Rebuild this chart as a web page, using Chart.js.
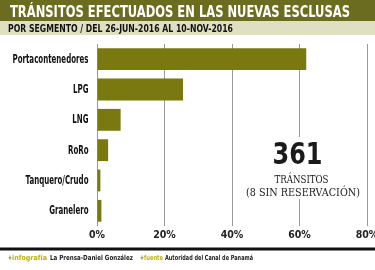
<!DOCTYPE html>
<html><head><meta charset="utf-8">
<script src="https://cdn.jsdelivr.net/npm/chart.js@4/dist/chart.umd.min.js"></script>
<style>html,body{margin:0;padding:0;background:#fff}#wrap{width:375px;height:270px;position:relative}</style>
</head><body><div id="wrap"><canvas id="c" width="375" height="270"></canvas></div>
<script>
const categories = ['Portacontenedores','LPG','LNG','RoRo','Tanquero/Crudo','Granelero'];
const shares = [62, 25.5, 7, 3.3, 1, 1.3];
const xTicks = [0, 20, 40, 60, 80];
const titleText = 'TRÁNSITOS EFECTUADOS EN LAS NUEVAS ESCLUSAS';
const subtitleText = 'POR SEGMENTO / DEL 26-JUN-2016 AL 10-NOV-2016';
const bigNumber = '361';
const bigLabel1 = 'TRÁNSITOS';
const bigLabel2 = '(8 SIN RESERVACIÓN)';

const COND = "'DejaVu Sans Condensed',sans-serif";

function fitText(ctx, txt, x, y, w, font, color, align) {
  ctx.save();
  ctx.font = font; ctx.fillStyle = color; ctx.textBaseline = 'alphabetic';
  const m = ctx.measureText(txt).width;
  const s = w / m;
  let x0 = x;
  if (align === 'center') x0 = x - w / 2;
  ctx.translate(x0, y); ctx.scale(s, 1);
  ctx.textAlign = 'left';
  ctx.fillText(txt, 0, 0);
  ctx.restore();
}

const deco = {
  id: 'deco',
  beforeDraw(chart) {
    const ctx = chart.ctx;
    ctx.save();
    ctx.fillStyle = '#fff'; ctx.fillRect(0, 0, 375, 270);
    ctx.fillStyle = '#6c6c20'; ctx.fillRect(0, 0, 375, 21);
    ctx.fillStyle = '#dfdfc2'; ctx.fillRect(0, 21, 375, 14);
    ctx.restore();
    fitText(ctx, titleText, 10, 17, 340, "bold 16.5px 'DejaVu Sans Condensed',sans-serif", '#ffffff');
    fitText(ctx, subtitleText, 8, 31.5, 225, "bold 11px 'DejaVu Sans Condensed',sans-serif", '#111111');
  },
  afterDraw(chart) {
    const ctx = chart.ctx;
    const ys = chart.scales.y;
    // category labels, positioned by the y scale, drawn condensed
    ctx.save();
    const lf = "bold 11.5px 'DejaVu Sans Condensed',sans-serif";
    ctx.font = lf;
    const s = 76 / ctx.measureText('Portacontenedores').width;
    ctx.fillStyle = '#111'; ctx.textAlign = 'right'; ctx.textBaseline = 'middle';
    categories.forEach((c, i) => {
      const py = ys.getPixelForTick(i);
      ctx.save();
      ctx.translate(88.5, py + 0.5); ctx.scale(s, 1);
      ctx.fillText(c, 0, 0);
      ctx.restore();
    });
    ctx.restore();

    ctx.save();
    ctx.fillStyle = '#fff'; ctx.fillRect(246, 137, 118, 62);
    ctx.fillStyle = '#111'; ctx.fillRect(0, 247.5, 375, 3);
    ctx.restore();
    fitText(ctx, bigNumber, 297.5, 163.5, 50, "bold 30px 'DejaVu Sans',sans-serif", '#1a1a1a', 'center');
    fitText(ctx, bigLabel1, 301.5, 182.5, 54, "11px 'DejaVu Serif Condensed','Liberation Serif',serif", '#1a1a1a', 'center');
    fitText(ctx, bigLabel2, 303, 196, 114, "11px 'DejaVu Serif Condensed','Liberation Serif',serif", '#1a1a1a', 'center');
    const fb = 259.5;
    fitText(ctx, '+', 8, fb, 4, "bold 7px 'DejaVu Sans Condensed',sans-serif", '#6c6c20');
    fitText(ctx, 'infografía', 12, fb, 35, "bold 7px 'DejaVu Sans Condensed',sans-serif", '#b8b400');
    fitText(ctx, 'La Prensa-Daniel González', 50, fb, 83, "bold 7px 'DejaVu Sans Condensed',sans-serif", '#222');
    fitText(ctx, '+', 140, fb, 4, "bold 7px 'DejaVu Sans Condensed',sans-serif", '#6c6c20');
    fitText(ctx, 'fuente', 144, fb, 19, "bold 7px 'DejaVu Sans Condensed',sans-serif", '#b8b400');
    fitText(ctx, 'Autoridad del Canal de Panamá', 165, fb, 88, "bold 7px 'DejaVu Sans Condensed',sans-serif", '#222');
  }
};

new Chart(document.getElementById('c'), {
  type: 'bar',
  data: {
    labels: categories,
    datasets: [{
      data: shares,
      backgroundColor: '#79790f',
      borderWidth: 0,
      barPercentage: 0.72,
      categoryPercentage: 1
    }]
  },
  options: {
    indexAxis: 'y',
    responsive: false,
    animation: false,
    devicePixelRatio: 1,
    layout: { padding: { top: 44, right: 0, bottom: 30, left: 0 } },
    plugins: { legend: { display: false }, tooltip: { enabled: false } },
    scales: {
      x: {
        min: 0, max: 80,
        afterBuildTicks(axis) { axis.ticks = xTicks.map(v => ({ value: v })); },
        grid: { color: '#999', lineWidth: 1, drawTicks: false },
        border: { display: false },
        ticks: {
          padding: 3,
          color: '#222',
          font: { family: COND, size: 10.5, weight: 'bold' },
          callback: v => v + '%'
        },
        afterFit(axis) { axis.height = 14; axis.paddingRight = 8; axis.paddingLeft = 0; }
      },
      y: {
        grid: { display: false, drawTicks: false },
        border: { display: false },
        ticks: { display: false },
        afterFit(axis) { axis.width = 97; }
      }
    }
  },
  plugins: [deco]
});
</script>
</body></html>
